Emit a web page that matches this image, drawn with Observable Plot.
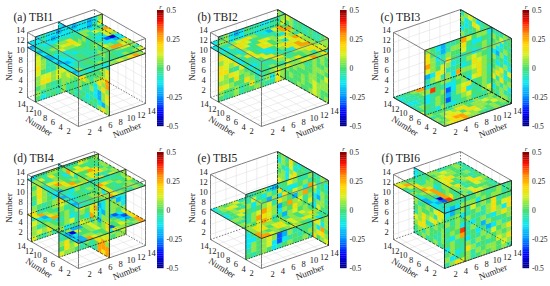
<!DOCTYPE html>
<html><head><meta charset="utf-8">
<script src="https://cdn.jsdelivr.net/npm/d3@7"></script>
<script src="https://cdn.jsdelivr.net/npm/@observablehq/plot@0.6"></script>
<style>html,body{margin:0;background:#fff}svg{display:block}</style>
</head><body><div id="chart"></div>
<script>
// estimated r level of each letter
const levelCodes = {B:-0.42,b:-0.3,c:-0.2,d:-0.12,e:-0.05,f:0,g:0.06,h:0.12,i:0.17,j:0.27,k:0.37};
const colorStops = [-0.5,-0.38,-0.25,-0.12,0,0.12,0.2,0.3,0.4,0.5];
const colorRange = ["#00007f","#0000ff","#0090ff","#10e8f0","#48e070","#d8f020","#ffd800","#ff8800","#ff1000","#7f0000"];
const cbTicks = [0.5,0.25,0,-0.25,-0.5];
const cbTickLabels = ["0.5","0.25","0","-0.25","-0.5"];
const axisTicks = [2,4,6,8,10,12,14];

const a_z12=["dddcddeeddcdc","deedddeedeecd","edddeeefggdee","eefggijhgehgj","egghiijhfeehi","fehgghgeeddhg","dedeffedeebBd","deedeefegddcd","ddefeefghgegi","cdefeeghgjjhg","deefefggfghhg","eeffeeffeeffe","geefgfefegfgh"];
const a_z11=["ceeeeeeeeeeee","deeeeeeeeeeee","ceeeeeeeeeeee","deeeeeeeeeeee","ceeeeeeeeeeee","ceeeeeeeeeeee","deeeeeeeeeeee","ceeeeeeeeeeee","deeeeeeeeeeee","deeeeeeeeeeee","deeeeeeeeeeee","ceeeeeeeeeeee","dedeedgghgijg"];
const a_u12=["deddcddcddcdg","dedcddcdddceh","eeeeeeeeeeeee","gfeeddeeeeeee","hfefegeeeeeee","hgeeffeeeeeee","igeefgeeeeeee","hfeegfeeeeeee","ghhghheeeeeee","giighgeeeeeee","fgfefgeeeeeee","gefeegeeeeeee","fdefegeeeeeee"];
const a_v7=["dcdeeegefgeff","eedefgfefeggf","eeeeeeeeeeeee","eeeefghgefeee","eefghgggfghgi","eegihghfeffgh","eefgiiigffgij","eeffgghfegigj","efghhiigfdgig","eghgfgfegdcgi","efgfegeeedcgh","efefeefdefdcg","eeefefeefegig"];
const b_z12=["dedcceigihiie","edeefiihgfdee","eeghiigedchjf","dgiihefeeegjj","eeihefihgedig","edgefihfghige","gehfeiifgdhjh","eiifddfhiihig","fehiedegiijhg","eefhifeedijjg","deefiifeghhig","efeeggeffgiih","fegfehgifgeih"];
const b_z11=["deeeeeeeeeeee","eeeeeeeeeeeee","deeeeeeeeeeee","feeeeeeeeeeee","deeeeeeeeeeee","eeeeeeeeeeeee","deeeeeeeeeeee","deeeeeeeeeeee","feeeeeeeeeeee","deeeeeeeeeeee","eeeeeeeeeeeee","deeeeeeeeeeee","efghgiggihjgi"];
const b_u12=["fgdcdfeeddeeg","ggdedeedeeefh","eeeeeeeeeeeee","gffeeeedeeeee","ihgfeeedeeeee","ghiifgfeegdge","ihgieifghfefg","iifeheiigfgig","hgihgfgifedie","ggfifgfefgdig","ihgffigegfgif","gffgefifegdhg","fefgeffgfeeig"];
const b_v14=["gdhgefeefeefg","ggfgefeefeegg","eeeeeeeeeeeee","eeeefgfffgfeg","eeefgfgfgfggf","eefgfgffggfgf","eefffgfffgffg","eegfggfefgggf","eefgfggffgffh","eeffgfffggfgg","eegfffgfghggg","eefgffgffhgff","eefffgffghgfg"];
const c_z1=["eefgjjfeeeeee","deefgiheeeeee","eeefhigeeeeee","ddefgfeeeeeee","eefghfeeeeeee","egihgfeeeeeee","fgiieeeeeeeee","hiieeeeeeeeee","gfffeggfegefg","efghgiifgghgf","gfhihfiiggfhg","fgijjhghgfgfg","ghiijggfefgff"];
const c_u6=["gfdceefjhfggd","ifeceggifddfe","igdegffheefge","jgeeifeefdegf","hgfhgdeeghgfe","cdiheefdeihge","eghegdjgghigf","defggegfegige","gkfeddfgdhige","defgbdghiefgf","degfcegidefge","fegfbeeghfegh","eedgedefgefeg"];
const c_v14=["eghgdeffeeegf","gdeihefegfhef","fdefgefhfgdfe","dfeegfedgdegf","geffeeeedcgdf","eeeeeeeegefde","eeeeeeeefdegd","eeeeeeeefgieh","eeeeeeeegigdf","eeeeeeeeheifg","eeeeeeeefgegd","eeeeeeeedfgee","eeeeeeeefeggf"];
const d_z13=["dehigefeeeffh","gheifeefhfeff","gfegfdehihfeg","ehigfegffjifg","dgjifgffhiigf","efgijfegieefg","dcggiifdgiehg","cdefgijifgheg","cdefeghjigfeg","edefefiifegfh","deffgfihfefgf","ceefgigiefggf","deeffgjhgfegf"];
const d_z6=["iigfeeeeeeeee","hjgfeeeeeeeee","dcigfeeeeeeee","fdjjgeeeeeeee","gfdhigeeeeeee","gfgdijgeeeeee","ghfedigeeeeee","fecBdfgeeeeee","egccghefgcbdh","cBhfghfggfcbi","cdffghggfgdci","dcggefcbfhgfj","ccjhgfdhggfgj"];
const d_v7=["dgjheggifegdg","eegfefgiifgeg","eefgieggihfdg","eedgfghgjhcdg","eeegfgifhjdcg","eeegffhgihdgg","eeefgifgjgcgi","eeeefghgegfgi","eefgeeeeeefgh","efgfdeeeegghi","egfgdeeeeiijg","gfdhgeeeefjjj","fegdceeeeejij"];
const d_u6=["eedgfeeeeeefg","iigefgeeeefgf","hgfdfieeeegfe","gefehieeeedfg","fgegigeeeecde","egdegfeeeegcd","fghefdeeeeggd","gdefhgeeeegfg","eeeeeeeeeegee","efghefeeeefgd","gifehgeeeeghf","fighegeeeegfh","hggfefeeeefgg"];
const d_u13=["dfeggfeefhgfg","geffdeeeeeeee","fihedeeeeeeee","gigfheeeeeeee","figefgeeeeeee","ehgfdigeeeeee","gfefgjfeeeeee","ieefghgeeeeee","eefeeeeeeeeee","hgeeffeeeeeee","gefedfeeeeeee","ghgieggeeeeee","hfegefgeeeeee"];
const e_z7=["dgfgheeeeeeee","egihfgeeeeeee","efgfehgeeeeee","dfgigfeeeeeee","efhfgieeeeeee","ggfhgeeeeeeee","feghjgeeeeeee","gihgeeeeeeeee","fhgeeeeeeeeee","gihggfgegfhgf","ghifhighgegig","jgfgihfhgihge","jjhgfghgfegdf"];
const e_u5=["eefgdcefhgeeg","ehedgeieddfge","gdgfcgdifhgdj","fefgheigfcgjf","eghjigcfjgheg","egjihgdgfigfh","gfhjiefcghfge","eghjffgfeeggf","dfhghgefgfhgf","ddfhifbcefhge","dgfghgbcgeefe","egfghdbdefefg","fefgfdefgffge"];
const e_v14=["fgeifdfeeeegf","dgfhdffegfefd","gedgifegfhefe","fgdhiegfggdgf","ggdiighfhdcge","hgifgehfheggf","fhieeeeegdhfe","eeeeeeeefhidg","eeeeeeeegdifg","eeeeeeeegihdg","eeeeeeeefgdjf","eeeeeeeedgiig","eeeeeeeegifgh"];
const f_z12=["hgffefggeefge","ijgegefghgfge","fhieefghggfee","efigefhiiffge","gfjifdhifgfef","egijcfifegief","dfgjcegiefiig","cfejcfggefhgf","cdBjifeghfffe","dcbkifgeihgfe","defjgfegigfeg","ecdighiefgfhg","ddcgdefgdghgg"];
const f_u1=["efeeefgfefgef","dcdgggdgfggef","dcfgehfgfieff","efgdefgegifhi","gegfgfeegigdi","efgdedfgedgig","fgfkegfcgfefg","edgjefdfcdgef","fgefdfegehfgi","dgfegegfgfgfg","fgdeigefefhgi","gdefgegfggfhg","egihgefgfgfge"];
const f_v5=["deefgfeggfefh","dfeggdefgifge","fgeddeefefgeg","hfegedegfgefg","igfeidfgifhef","hgffgdiigieeg","gefgfhiheiefg","fgffgehgghgef","egighifffgfed","hgieegfgfdeef","giigffegedfef","fgegfeegefdef","efgefgefefgge"];

const panels = [
 {title:"(a) TBI1",ox:78,oy:126,tx:13,ty:20,cb:157,slices:[["z",12,a_z12],["z",11,a_z11],["u",12,a_u12],["v",7,a_v7]]},
 {title:"(b) TBI2",ox:261,oy:126,tx:197,ty:20,cb:340,slices:[["z",12,b_z12],["z",11,b_z11],["u",12,b_u12],["v",14,b_v14]]},
 {title:"(c) TBI3",ox:444,oy:126,tx:380,ty:20,cb:522.5,slices:[["z",1,c_z1],["u",6,c_u6],["v",14,c_v14]]},
 {title:"(d) TBI4",ox:78,oy:268,tx:13,ty:161,cb:157,slices:[["z",13,d_z13],["z",6,d_z6],["v",7,d_v7],["u",6,d_u6],["u",13,d_u13]]},
 {title:"(e) TBI5",ox:261,oy:268,tx:197,ty:161,cb:340,slices:[["z",7,e_z7],["u",5,e_u5],["v",14,e_v14]]},
 {title:"(f) TBI6",ox:444,oy:268,tx:381,ty:161,cb:522.5,slices:[["z",12,f_z12],["u",1,f_u1],["v",5,f_v5]]}
];

const U=[-51,-29],V=[67,-23],H=65,D=[67,51,-47.9],N=13;
const proj=(p,u,v,z)=>[p.ox+(u-1)/N*U[0]+(v-1)/N*V[0], p.oy+(u-1)/N*U[1]+(v-1)/N*V[1]-(z-1)/N*H];
const pt=(a,at,s,t)=>a==="z"?[s,t,at]:a==="u"?[at,s,t]:[s,at,t];

function covered(p,m){
  return p.slices.some(([a,at])=>{
    const k=a==="u"?0:a==="v"?1:2;
    const s=k<2?(m[k]-at)/D[k]:(at-m[2])/47.9;
    if(s<=1e-6) return false;
    const q=[m[0]-s*D[0],m[1]-s*D[1],m[2]-s*D[2]];
    return q.every((c,i)=>i===k||(c>=1&&c<=14));
  });
}

const cellRows=[],gridLines=[],boxSolid=[],boxDash=[],edgeSolid=[],edgeDash=[],titles=[],ticksText=[],numLabels=[],cbCells=[],cbText=[],cbR=[];
const seg=(p,A,B)=>{const a=proj(p,...A),b=proj(p,...B);return {x1:a[0],y1:a[1],x2:b[0],y2:b[1]};};

panels.forEach((p,pi)=>{
  axisTicks.slice(0,6).forEach(t=>{
    gridLines.push(seg(p,[t,1,1],[t,14,1]),seg(p,[1,t,1],[14,t,1]),
      seg(p,[14,t,1],[14,t,14]),seg(p,[14,1,t],[14,14,t]),
      seg(p,[t,14,1],[t,14,14]),seg(p,[1,14,t],[14,14,t]));
  });
  const list=[];
  p.slices.forEach(([a,at,rows])=>{
    rows.forEach((row,i)=>{
      [...row].forEach((ch,j)=>{
        let s0,s1,t0,t1;
        if(a==="z"){s0=14-i;s1=13-i;t0=1+j;t1=2+j;}
        else if(a==="u"){s0=1+j;s1=2+j;t0=14-i;t1=13-i;}
        else {s0=14-j;s1=13-j;t0=14-i;t1=13-i;}
        const c=pt(a,at,(s0+s1)/2,(t0+t1)/2);
        const depth=c[0]*D[0]+c[1]*D[1]+c[2]*D[2];
        list.push({depth,r:levelCodes[ch],corners:[pt(a,at,s0,t0),pt(a,at,s1,t0),pt(a,at,s1,t1),pt(a,at,s0,t1),pt(a,at,s0,t0)]});
      });
    });
    const edge=(A,B,solid)=>{
      for(let k=0;k<N;k++){
        const P=A.map((x,d)=>x+(B[d]-x)*k/N),Q=A.map((x,d)=>x+(B[d]-x)*(k+1)/N);
        const m=P.map((x,d)=>(x+Q[d])/2);
        (solid&&!covered(p,m)?edgeSolid:edgeDash).push(seg(p,P,Q));
      }
    };
    if(a==="z"){
      edge([1,1,at],[14,1,at],true);edge([1,1,at],[1,14,at],true);
      edge([14,1,at],[14,14,at],false);edge([1,14,at],[14,14,at],false);
    } else if(a==="u"){
      edge([at,1,14],[at,14,14],true);edge([at,1,1],[at,14,1],false);
      edge([at,1,1],[at,1,14],true);edge([at,14,1],[at,14,14],true);
    } else {
      edge([1,at,14],[14,at,14],true);edge([1,at,1],[14,at,1],false);
      edge([1,at,1],[1,at,14],true);edge([14,at,1],[14,at,14],false);
    }
  });
  list.sort((a,b)=>b.depth-a.depth);
  list.forEach((c,ci)=>{
    const id=pi+"-"+ci;
    c.corners.forEach(q=>{
      const xy=proj(p,...q);
      cellRows.push({id,x:xy[0],y:xy[1],r:c.r});
    });
  });
  const boxE=[[[1,1,1],[14,1,1]],[[1,1,1],[1,14,1]],[[1,1,14],[14,1,14]],[[1,1,14],[1,14,14]],[[14,1,14],[14,14,14]],[[1,14,14],[14,14,14]],[[1,1,1],[1,1,14]],[[14,1,1],[14,1,14]],[[1,14,1],[1,14,14]]];
  boxE.forEach(([A,B])=>{
    for(let k=0;k<N;k++){
      const P=A.map((x,d)=>x+(B[d]-x)*k/N),Q=A.map((x,d)=>x+(B[d]-x)*(k+1)/N);
      const m=P.map((x,d)=>(x+Q[d])/2);
      if(!covered(p,m)) boxSolid.push(seg(p,P,Q));
    }
  });
  boxDash.push(seg(p,[14,1,1],[14,14,1]),seg(p,[1,14,1],[14,14,1]),seg(p,[14,14,1],[14,14,14]));
  titles.push({x:p.tx,y:p.ty,t:p.title});
  axisTicks.forEach(t=>{
    const z=proj(p,14,1,t);ticksText.push({x:z[0]-7,y:z[1]-2,t:String(t)});
    const u=proj(p,t,1,1);ticksText.push({x:u[0]-6,y:u[1]+7,t:String(t)});
    const v=proj(p,1,t,1);ticksText.push({x:v[0]+6,y:v[1]+8,t:String(t)});
  });
  const zl=proj(p,14,1,7.5),ul=proj(p,7.5,1,1),vl=proj(p,1,7.5,1);
  numLabels.push({x:zl[0]-18,y:zl[1]+1,rot:-90},{x:ul[0]-14,y:ul[1]+14,rot:33},{x:vl[0]+15,y:vl[1]+15,rot:-21});
  const y0=p.oy-116;
  for(let k=0;k<64;k++){
    const r=-0.5+(k+0.5)/64;
    const yy=y0+116*(1-(k+1)/64);
    cbCells.push({x1:p.cb,x2:p.cb+6.6,y1:yy,y2:yy+116/64+0.2,r});
  }
  cbTicks.forEach((r,k)=>cbText.push({x:p.cb+9,y:y0+116*(0.5-r),t:cbTickLabels[k]}));
  cbR.push({x:p.cb+3,y:y0-4,t:"r"});
});

const serif="Liberation Serif";
const chart=Plot.plot({
  width:550,height:286,margin:0,
  x:{domain:[0,550],range:[0,550],axis:null},
  y:{domain:[0,286],range:[0,286],axis:null},
  color:{type:"linear",domain:colorStops,range:colorRange,clamp:true},
  style:{background:"#fff"},
  marks:[
    Plot.link(gridLines,{x1:"x1",y1:"y1",x2:"x2",y2:"y2",stroke:"#dcdcdc",strokeWidth:0.5}),
    Plot.line(cellRows,{x:"x",y:"y",z:"id",fill:"r",stroke:"r",strokeWidth:0.3}),
    Plot.link(boxSolid,{x1:"x1",y1:"y1",x2:"x2",y2:"y2",stroke:"#707070",strokeWidth:0.9}),
    Plot.link(boxDash,{x1:"x1",y1:"y1",x2:"x2",y2:"y2",stroke:"#222",strokeWidth:0.6,strokeDasharray:"1.5,1.5"}),
    Plot.link(edgeDash,{x1:"x1",y1:"y1",x2:"x2",y2:"y2",stroke:"#111",strokeWidth:0.7,strokeDasharray:"1.6,1.4"}),
    Plot.link(edgeSolid,{x1:"x1",y1:"y1",x2:"x2",y2:"y2",stroke:"#222",strokeWidth:0.9}),
    Plot.rect(cbCells,{x1:"x1",x2:"x2",y1:"y1",y2:"y2",fill:"r"}),
    Plot.text(titles,{x:"x",y:"y",text:"t",textAnchor:"start",fontFamily:serif,fontSize:11.5,fill:"#222",lineAnchor:"bottom"}),
    Plot.text(ticksText,{x:"x",y:"y",text:"t",fontFamily:serif,fontSize:8.5,fill:"#222"}),
    Plot.text(numLabels,{x:"x",y:"y",text:()=>"Number",rotate:"rot",fontFamily:serif,fontSize:9,fill:"#222"}),
    Plot.text(cbText,{x:"x",y:"y",text:"t",textAnchor:"start",fontFamily:serif,fontSize:7.5,fill:"#222"}),
    Plot.text(cbR,{x:"x",y:"y",text:"t",fontFamily:serif,fontStyle:"italic",fontSize:7,fill:"#222"})
  ]
});
document.getElementById("chart").append(chart);
</script></body></html>
